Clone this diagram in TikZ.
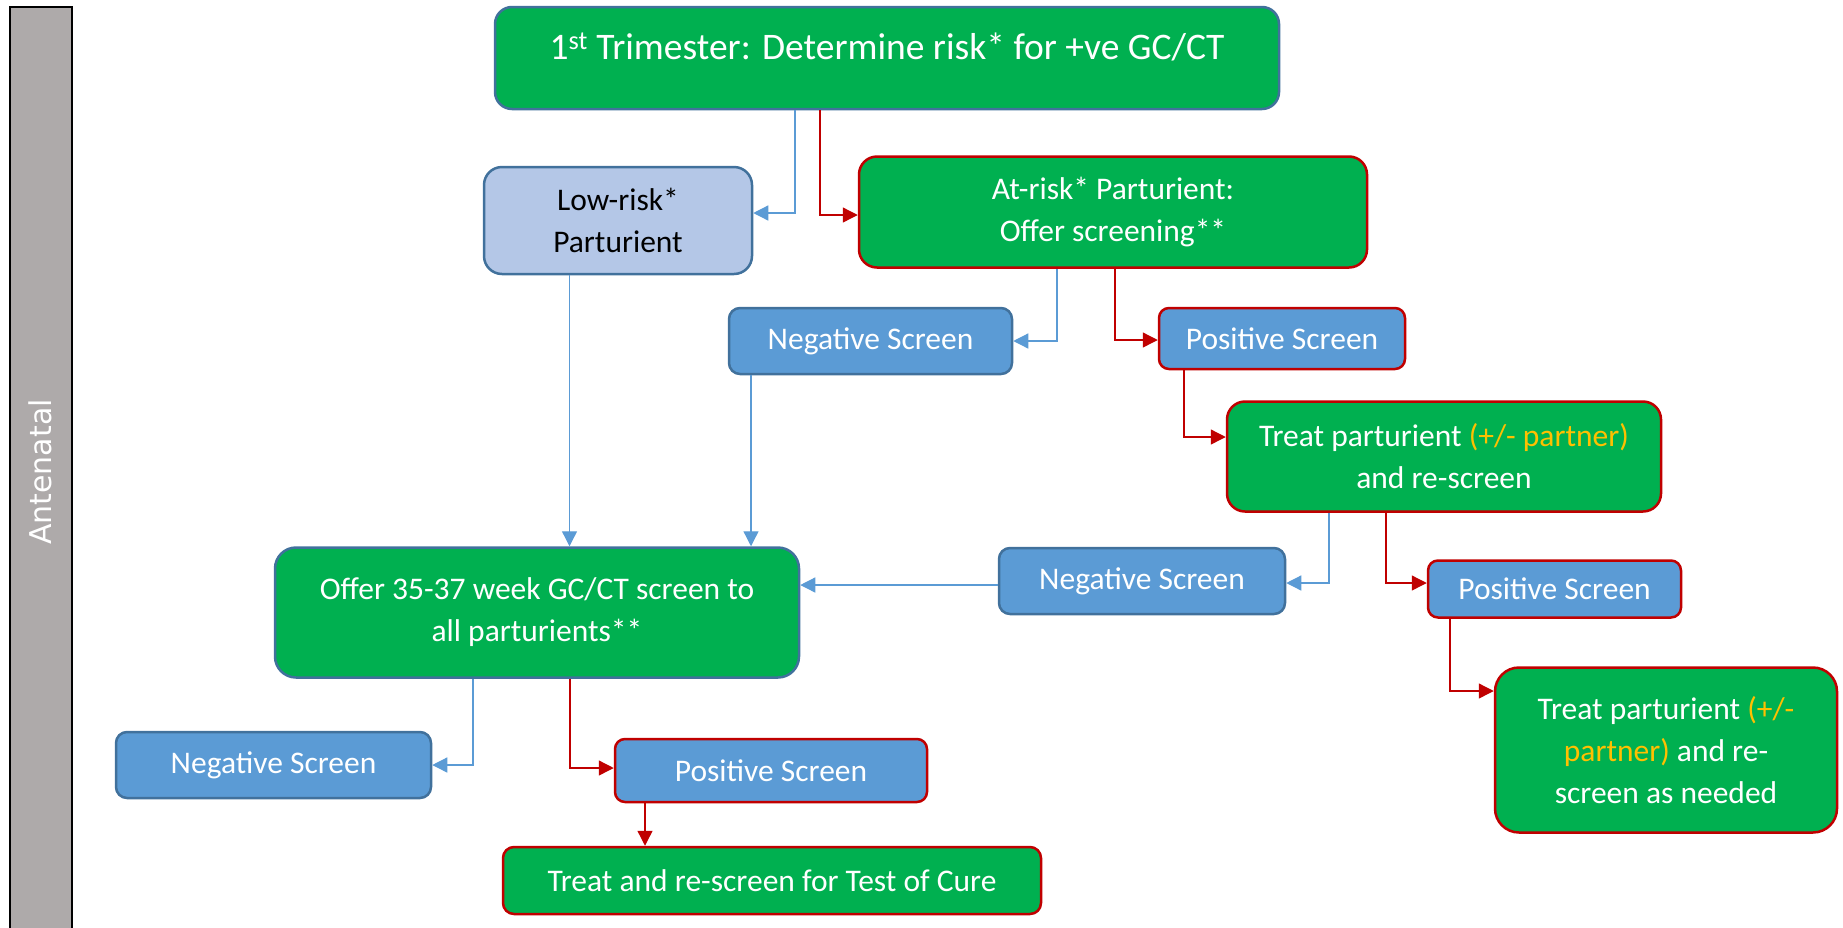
\documentclass[tikz,border=0pt]{standalone}
\usepackage{fontspec}
\setmainfont{Carlito}
\newfontfamily\stripefont{DejaVu Sans}
\usetikzlibrary{arrows.meta}
\definecolor{gr}{HTML}{00B050}
\definecolor{bfill}{HTML}{5B9BD5}
\definecolor{bedge}{HTML}{41719C}
\definecolor{lfill}{HTML}{B4C7E7}
\definecolor{rd}{HTML}{C00000}
\definecolor{gold}{HTML}{FFC000}
\definecolor{stripegray}{HTML}{AEAAAA}
\tikzset{
  box/.style={draw, line width=2.5pt, align=center, text=white, inner sep=0pt,
    font=\fontsize{31.5}{42}\selectfont},
  greenblue/.style={box, fill=gr, draw=bedge},
  greenred/.style={box, fill=gr, draw=rd},
  negbox/.style={box, fill=bfill, draw=bedge},
  posbox/.style={box, fill=bfill, draw=rd},
  lowbox/.style={box, fill=lfill, draw=bedge, text=black},
  bl/.style={draw=bfill, line width=1.3pt, -{Triangle[length=15pt,width=15pt]}},
  rl/.style={draw=rd, line width=1.3pt, -{Triangle[length=15pt,width=15pt]}},
}
\begin{document}
\begin{tikzpicture}[x=1pt,y=-1pt]
\useasboundingbox (0,0) rectangle (1843,927);
% side stripe
\node[draw=black, line width=2pt, fill=stripegray, rotate=90, minimum width=930pt, minimum height=62pt,
  inner sep=0pt, text=white, font=\stripefont\fontsize{30}{36}\selectfont] (stripe) at (40.5,472) {Antenatal};
% boxes
\node[greenblue, rounded corners=17pt, minimum width=784pt, minimum height=102pt,
  font=\fontsize{37.5}{43}\selectfont, text height=28pt, text depth=26pt] (title) at (887,58)
  {1\textsuperscript{st} Trimester: Determine risk* for +ve GC/CT};
\node[lowbox, rounded corners=18pt, minimum width=268pt, minimum height=107pt] (lowrisk) at (618,220.5)
  {Low-risk*\\Parturient};
\node[greenred, rounded corners=18pt, minimum width=508pt, minimum height=111pt] (atrisk) at (1113,212)
  {At-risk* Parturient:\\Offer screening**};
\node[negbox, rounded corners=11pt, minimum width=283pt, minimum height=66pt] (neg1) at (870.5,341)
  {Negative Screen};
\node[posbox, rounded corners=10pt, minimum width=246pt, minimum height=61pt] (pos1) at (1282,338.5)
  {Positive Screen};
\node[greenred, rounded corners=18pt, minimum width=434pt, minimum height=110pt] (treat1) at (1444,456.5)
  {Treat parturient \textcolor{gold}{(+/- partner)}\\and re-screen};
\node[negbox, rounded corners=11pt, minimum width=286pt, minimum height=66pt] (neg2) at (1142,581)
  {Negative Screen};
\node[posbox, rounded corners=10pt, minimum width=253pt, minimum height=57pt] (pos2) at (1554.5,589)
  {Positive Screen};
\node[greenblue, rounded corners=21pt, minimum width=524pt, minimum height=130pt] (offer) at (537,612.5)
  {Offer 35-37 week GC/CT screen to\\all parturients**};
\node[greenred, rounded corners=24pt, minimum width=342pt, minimum height=165pt] (treat2) at (1666,750)
  {Treat parturient \textcolor{gold}{(+/-}\\\textcolor{gold}{partner)} and re-\\screen as needed};
\node[negbox, rounded corners=11pt, minimum width=315pt, minimum height=66pt] (neg3) at (273.5,765)
  {Negative Screen};
\node[posbox, rounded corners=10pt, minimum width=312pt, minimum height=63pt] (pos3) at (771,770.5)
  {Positive Screen};
\node[greenred, rounded corners=11pt, minimum width=538pt, minimum height=67pt] (treat3) at (772,880.5)
  {Treat and re-screen for Test of Cure};
% connector corner points
\coordinate (k1) at (795,213);
\coordinate (k2) at (820,215);
\coordinate (k3) at (1057,341);
\coordinate (k4) at (1115,340);
\coordinate (k5) at (569.5,0);
\coordinate (k6) at (751,0);
\coordinate (k7) at (1184,437);
\coordinate (k8) at (1329,583);
\coordinate (k9) at (1386,583);
\coordinate (k10) at (0,585);
\coordinate (k11) at (1450,691);
\coordinate (k12) at (473,765);
\coordinate (k13) at (570,768);
\coordinate (k14) at (645,0);
% connectors
\draw[bl] (title.south -| k1) |- (lowrisk.east |- k1);
\draw[rl] (title.south -| k2) |- (atrisk.west |- k2);
\draw[bl] (atrisk.south -| k3) |- (neg1.east |- k3);
\draw[rl] (atrisk.south -| k4) |- (pos1.west |- k4);
\draw[bl] (lowrisk.south -| k5) -- (offer.north -| k5);
\draw[bl] (neg1.south -| k6) -- (offer.north -| k6);
\draw[rl] (pos1.south -| k7) |- (treat1.west |- k7);
\draw[bl] (treat1.south -| k8) |- (neg2.east |- k8);
\draw[rl] (treat1.south -| k9) |- (pos2.west |- k9);
\draw[bl] (neg2.west |- k10) -- (offer.east |- k10);
\draw[rl] (pos2.south -| k11) |- (treat2.west |- k11);
\draw[bl] (offer.south -| k12) |- (neg3.east |- k12);
\draw[rl] (offer.south -| k13) |- (pos3.west |- k13);
\draw[rl] (pos3.south -| k14) -- (treat3.north -| k14);
\end{tikzpicture}
\end{document}
